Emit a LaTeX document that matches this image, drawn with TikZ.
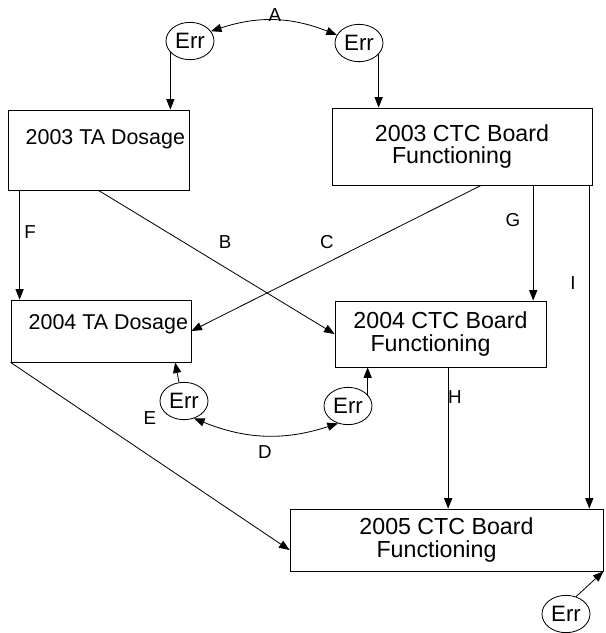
\documentclass[tikz,border=0pt]{standalone}
\usepackage{fontspec}
\setmainfont{Liberation Sans}
\usetikzlibrary{arrows.meta,calc,shapes.geometric}

\begin{document}
\begin{tikzpicture}[
    x=0.03cm,
    y=-0.03cm,
    line width=0.7pt,
    >={Triangle[length=9pt,width=7pt]},
    box/.style = {
      shape=rectangle,
      draw,
      inner sep=0pt
    },
    ctc/.style = {
      box,
      align=center,
      font=\fontsize{19.8}{18.8}\selectfont
    },
    tatext/.style = {
      anchor=north east,
      inner sep=0pt,
      font=\fontsize{18.3}{20}\selectfont
    },
    err/.style = {
      shape=ellipse,
      draw,
      minimum width=1.44cm,
      minimum height=1.12cm,
      inner sep=0pt,
      font=\fontsize{19}{19}\selectfont
    },
    lbl/.style = {
      inner sep=0pt,
      font=\fontsize{16}{16}\selectfont
    }
    ]

  \useasboundingbox (0,0) rectangle (605,633);

  % boxes
  \node[box, minimum width=5.43cm, minimum height=2.4cm] (ta03) at (98.5,150) {};
  \node[tatext] (ta03text) at ([shift={(-4,20)}]ta03.north east) {2003 TA Dosage};
  \node[ctc, minimum width=7.8cm, minimum height=2.31cm] (ctc03) at (462,146.5)
    {2003 CTC Board\\Functioning\hspace*{0.6cm}};
  \node[box, minimum width=5.4cm, minimum height=1.86cm] (ta04) at (101,331) {};
  \node[tatext] (ta04text) at ([shift={(-3,15)}]ta04.north east) {2004 TA Dosage};
  \node[ctc, minimum width=6.33cm, minimum height=1.98cm] (ctc04) at (440.5,334)
    {2004 CTC Board\\Functioning\hspace*{0.6cm}};
  \node[ctc, minimum width=9.39cm, minimum height=1.86cm] (ctc05) at (446.5,540)
    {2005 CTC Board\\Functioning\hspace*{0.6cm}};

  % error terms
  \node[err] (err1) at (190,41) {Err};
  \node[err] (err2) at (359,43) {Err};
  \node[err] (err3) at (184,401) {Err};
  \node[err] (err4) at (348,406) {Err};
  \node[err] (err5) at (566,614) {Err};

  % paths
  \coordinate (f) at ($(ta03.south west)!0.066!(ta03.south east)$);
  \coordinate (c) at ($(ctc03.south west)!0.573!(ctc03.south east)$);
  \coordinate (g) at ($(ctc03.south west)!0.773!(ctc03.south east)$);
  \coordinate (i) at ($(ctc03.south west)!0.988!(ctc03.south east)$);
  \coordinate (h) at ($(ctc04.south west)!0.536!(ctc04.south east)$);
  \coordinate (e) at ($(ctc05.north west)!0.66!(ctc05.south west)$);
  \coordinate (d3) at ($(ta04.south west)!0.91!(ta04.south east)$);

  \draw[->] (f) -- (f |- ta04.north);
  \draw[->] (ta03.south) -- (ctc04.west);
  \draw[->] (c) -- (ta04.east);
  \draw[->] (g) -- (g |- ctc04.north);
  \draw[->] (i) -- (i |- ctc05.north);
  \draw[->] (h) -- (h |- ctc05.north);
  \draw[->] (ta04.south west) -- (e);

  \draw[->] (err1.210) -- (err1.210 |- ta03.north);
  \draw[->] (err2.330) -- (err2.330 |- ctc03.north);
  \draw[->] (err3.105) -- (d3);
  \draw[->] (err4.30) -- (err4.30 |- ctc04.south);
  \draw[->] (err5.60) -- (ctc05.south east);
  \draw[<->] (err1.25) to[bend left=20] (err2.160);
  \draw[<->] (err3.300) to[bend right=20] (err4.240);

  % labels
  \node[lbl] (labA) at (275,15) {A};
  \node[lbl] (labB) at (225,242) {B};
  \node[lbl] (labC) at (327,242) {C};
  \node[lbl] (labD) at (265,452) {D};
  \node[lbl] (labE) at (150,418) {E};
  \node[lbl] (labF) at (30,232) {F};
  \node[lbl] (labG) at (513,220) {G};
  \node[lbl] (labH) at (455,397) {H};
  \node[lbl] (labI) at (573,283) {I};

\end{tikzpicture}
\end{document}
